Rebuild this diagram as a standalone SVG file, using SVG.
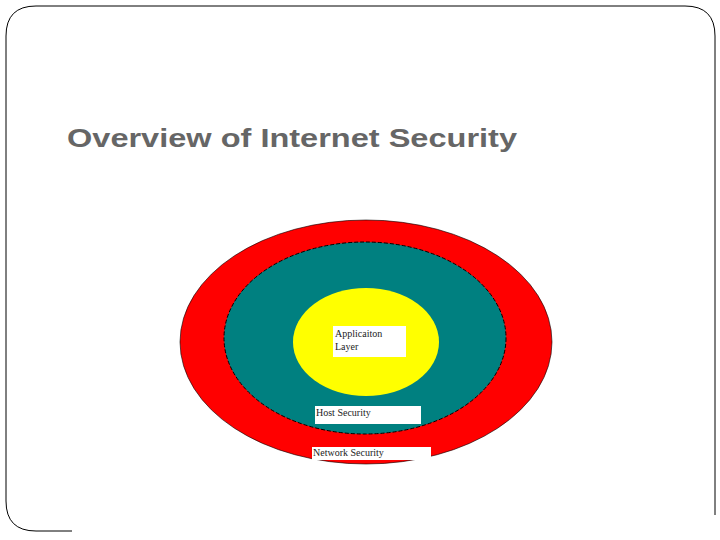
<svg xmlns="http://www.w3.org/2000/svg" width="720" height="540" viewBox="0 0 720 540">
<style>
.lbl{font-family:"Liberation Serif",serif;font-size:10px;fill:#222}
.box{fill:#fff}
</style>
<rect width="720" height="540" fill="#fff"/>
<path d="M72,531 H36 Q6,531 6,501 V36 Q6,6 36,6 H685 Q715,6 715,36 V515" fill="none" stroke="#000" stroke-width="1"/>
<text x="67" y="147" font-family="Liberation Sans,Arial,sans-serif" font-weight="bold" font-size="26" fill="#666" textLength="450" lengthAdjust="spacingAndGlyphs">Overview of Internet Security</text>
<g id="network">
<ellipse cx="366" cy="342" rx="186" ry="122" fill="#f00" stroke="#000" stroke-width="0.6"/>
</g>
<g id="host">
<ellipse cx="365" cy="338" rx="141" ry="96" fill="#008080" stroke="#000" stroke-width="1" stroke-dasharray="4,2"/>
</g>
<g id="application">
<ellipse cx="366" cy="342" rx="73" ry="54" fill="#ff0"/>
<rect class="box" x="333" y="326" width="73" height="31"/>
<text class="lbl" x="335" y="337">Applicaiton</text>
<text class="lbl" x="335" y="350">Layer</text>
</g>
<g id="host-label">
<rect class="box" x="315" y="406" width="106" height="18"/>
<text class="lbl" x="316" y="416">Host Security</text>
</g>
<g id="network-label">
<rect class="box" x="312" y="447" width="119" height="13"/>
<text class="lbl" x="313" y="456">Network Security</text>
</g>
<g id="connectors"/>
</svg>
